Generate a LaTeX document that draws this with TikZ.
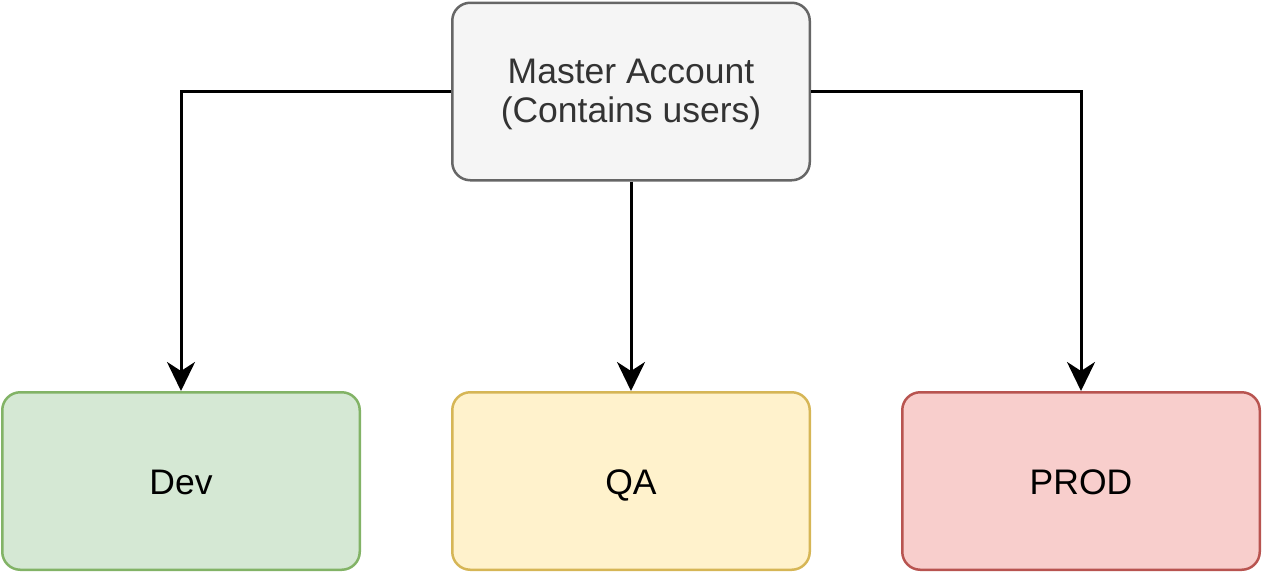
\documentclass[tikz,border=0pt]{standalone}
\usepackage{fontspec}
\setmainfont{Liberation Sans}
\usetikzlibrary{arrows.meta}
\definecolor{mfill}{HTML}{F5F5F5}
\definecolor{mdraw}{HTML}{666666}
\definecolor{mtext}{HTML}{333333}
\definecolor{gfill}{HTML}{D5E8D4}
\definecolor{gdraw}{HTML}{82B366}
\definecolor{yfill}{HTML}{FFF2CC}
\definecolor{ydraw}{HTML}{D6B656}
\definecolor{rfill}{HTML}{F8CECC}
\definecolor{rdraw}{HTML}{B85450}
\tikzset{
  box/.style={rectangle, rounded corners=18pt, line width=2.5pt, minimum width=357.5pt, minimum height=177.5pt, inner sep=0pt, align=center, font=\fontsize{35.5}{39}\selectfont},
  onebox/.style={box, text height=26pt, text depth=0pt},
  conn/.style={line width=3pt, -{Stealth[length=29pt, width=28pt, inset=9pt]}}
}
\begin{document}
\begin{tikzpicture}[x=1pt,y=-1pt]
\useasboundingbox (0,0) rectangle (1263,573);
\node[box, fill=mfill, draw=mdraw,
  label={[font=\fontsize{35.5}{39}\selectfont, text=mtext, align=center, inner sep=0pt, yshift=-3pt]center:Master Account\\(Contains users)}] (master) at (631,91.5) {};
\node[onebox, fill=gfill, draw=gdraw] (dev) at (181,481) {Dev};
\node[onebox, fill=yfill, draw=ydraw] (qa) at (631,481) {QA};
\node[onebox, fill=rfill, draw=rdraw] (prod) at (1081,481) {PROD};
\draw[conn] (master.west |- 0,91) -| (dev.north);
\draw[conn] (master.south) -- (qa.north);
\draw[conn] (master.east |- 0,91) -| (prod.north);
\end{tikzpicture}
\end{document}
